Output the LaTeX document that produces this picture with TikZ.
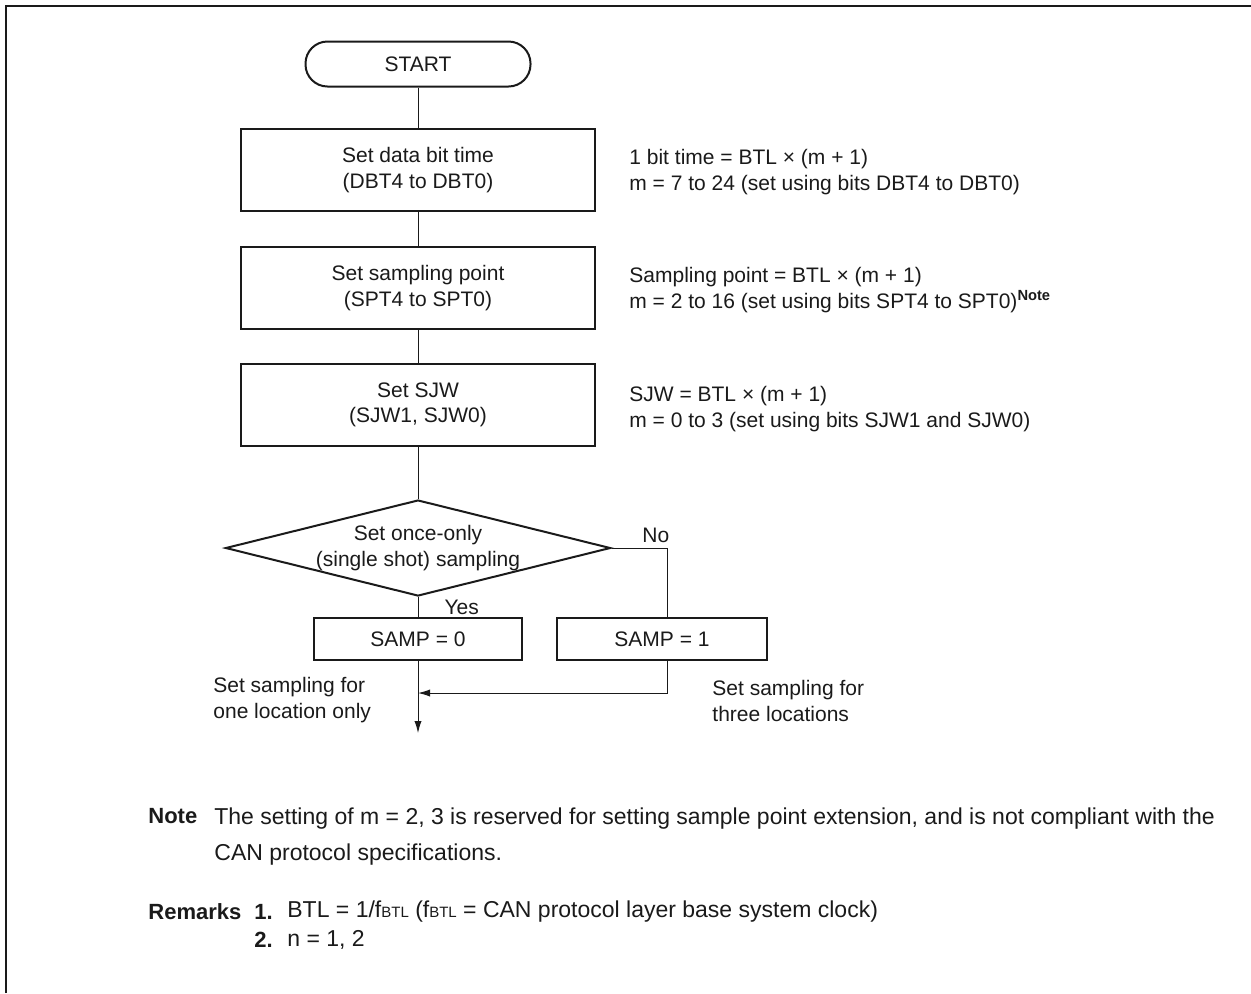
\documentclass[tikz,border=0pt]{standalone}
\usepackage{fontspec}
\setmainfont{Liberation Sans}
\usepackage{xcolor}
\usepackage{tikz}
\usetikzlibrary{arrows.meta,positioning,shapes.geometric,calc}
\definecolor{flowink}{HTML}{1A1A1A}
\tikzset{
  termnode/.style={rounded corners=11pt, draw=flowink, line width=1pt, minimum width=112.5pt, minimum height=22.5pt, inner sep=0pt},
  setbox/.style={draw=flowink, line width=1pt, align=center, minimum width=177pt, minimum height=41pt, inner sep=0pt},
  sampbox/.style={draw=flowink, line width=1pt, minimum width=104pt, minimum height=21pt, inner sep=0pt},
  decision/.style={diamond, aspect=4, draw=flowink, line width=1pt, align=center, minimum width=192.5pt, minimum height=48pt, inner sep=0pt},
  annot/.style={align=left, anchor=west, inner sep=0pt, text=flowink},
  notetext/.style={annot, font=\fontsize{11.5}{18}\selectfont},
  notehead/.style={annot, font=\fontsize{11}{13}\bfseries},
  flowline/.style={line width=0.5pt, draw=flowink},
  flowarrow/.style={-{Latex[length=6pt, width=3.6pt]}, line width=0.5pt, draw=flowink},
  frameline/.style={line width=1pt, draw=flowink}
}
\newcommand{\fbtl}{f{\fontsize{7.5}{8}\selectfont BTL}}

\begin{document}
\begin{tikzpicture}[x=0.5pt, y=-0.5pt, font=\fontsize{10.5}{12.6}\selectfont, text=flowink]
  \useasboundingbox (0,0) rectangle (1251,993);
  \draw[frameline] (6,993) -- (6,6) -- (1251,6);

  % flow column
  \node[termnode] (start) at (418,64) {START};
  \node[setbox] (dbt) at (418,170) {Set data bit time\\(DBT4 to DBT0)};
  \node[setbox] (spt) at (418,288) {Set sampling point\\(SPT4 to SPT0)};
  \node[setbox] (sjw) at (418,405) {Set SJW\\(SJW1, SJW0)};
  \node[decision] (once) at (418,548) {Set once-only\\(single shot) sampling};
  \node[sampbox] (samp0) at (418,639) {SAMP = 0};
  \node[sampbox, minimum width=105pt] (samp1) at (662,639) {SAMP = 1};
  \coordinate (nojoin) at (667,693);
  \coordinate (flowend) at (418,733);

  % settings beside the boxes
  \node[annot] (dbtnote) at (629,172) {1 bit time = BTL × (m + 1)\\m = 7 to 24 (set using bits DBT4 to DBT0)};
  \node[annot] (sptnote) at (629,290) {Sampling point = BTL × (m + 1)\\m = 2 to 16 (set using bits SPT4 to SPT0)\textsuperscript{\bfseries Note}};
  \node[annot] (sjwnote) at (629,409) {SJW = BTL × (m + 1)\\m = 0 to 3 (set using bits SJW1 and SJW0)};
  \node[annot] (onelabel) at (213,700) {Set sampling for\\one location only};
  \node[annot] (threelabel) at (712,701) {Set sampling for\\three locations};

  \draw[flowline] (start) -- (dbt);
  \draw[flowline] (dbt) -- (spt);
  \draw[flowline] (spt) -- (sjw);
  \draw[flowline] (sjw) -- (once);
  \draw[flowline] (once) -- node[right=13pt, inner sep=0pt] {Yes} (samp0);
  \draw[flowline] (once.east) -| node[pos=0.4, above=2.5pt, inner sep=0pt] {No} (samp1.north -| nojoin);
  \draw[flowarrow] (samp1.south -| nojoin) |- (samp0.south |- nojoin);
  \draw[flowarrow] (samp0) -- (flowend);

  % notes
  \node[notehead] (notehd) at (148,816) {Note};
  \node[notetext] (notebody) at (214,837) {The setting of m = 2, 3 is reserved for setting sample point extension, and is not compliant with the\\CAN protocol specifications.};
  \node[notehead] (remhd) at (148,912) {Remarks};
  \node[notehead] (remone) at (254,912) {1.};
  \node[notetext] (remonetext) at (287,912) {BTL = 1/\fbtl{} (\fbtl{} = CAN protocol layer base system clock)};
  \node[notehead] (remtwo) at (254,940) {2.};
  \node[notetext] (remtwotext) at (287,940) {n = 1, 2};
\end{tikzpicture}
\end{document}
